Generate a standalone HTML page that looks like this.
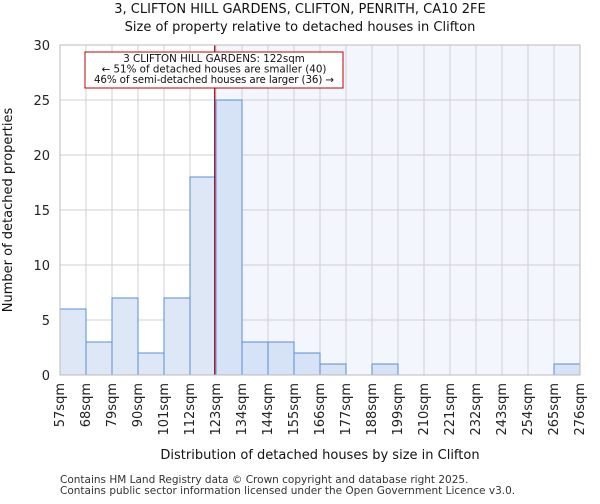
<!DOCTYPE html>
<html><head><meta charset="utf-8"><style>body{margin:0;background:#fff;font-family:"DejaVu Sans","Liberation Sans",sans-serif}</style></head><body>
<svg id="c" width="600" height="500" xmlns="http://www.w3.org/2000/svg" font-family="DejaVu Sans, Liberation Sans, sans-serif"></svg>
<script>
const categories=["57sqm","68sqm","79sqm","90sqm","101sqm","112sqm","123sqm","134sqm","144sqm","155sqm","166sqm","177sqm","188sqm","199sqm","210sqm","221sqm","232sqm","243sqm","254sqm","265sqm","276sqm"];
const counts=[6,3,7,2,7,18,25,3,3,2,1,0,1,0,0,0,0,0,0,1];
const yTicks=[0,5,10,15,20,25,30];
const propertyBin=5.95;
const svg=document.getElementById('c');const NS='http://www.w3.org/2000/svg';
const L=60,R=580,T=45,B=375,n=counts.length,bw=(R-L)/n;
const x=i=>L+i*bw, y=v=>B-(v/30)*(B-T);
function el(t,a,txt){const e=document.createElementNS(NS,t);for(const k in a)e.setAttribute(k,a[k]);if(txt!==undefined)e.textContent=txt;svg.appendChild(e);return e;}
let e;
e=el('rect',{x:x(propertyBin),y:T,width:R-x(propertyBin),height:B-T,fill:'#f3f6fd'});

for(let i=0;i<=n;i++){e=el('line',{x1:x(i),x2:x(i),y1:T,y2:B,stroke:'#d0d0d0'});}
yTicks.forEach(v=>{e=el('line',{x1:L,x2:R,y1:y(v),y2:y(v),stroke:'#d0d0d0'});
e=el('text',{x:L-10,y:y(v)+5,'text-anchor':'end','font-size':13,fill:'#222'},v);});
counts.forEach((c,i)=>{if(c>0){e=el('rect',{x:x(i),y:y(c),width:bw,height:B-y(c),fill:i>=6?'#d6e2f5':'#dde7f5',stroke:'#5b8fd4','stroke-width':1});}});
categories.forEach((c,i)=>{const tx=x(i)+4;e=el('text',{x:tx,y:B+8,'font-size':13,fill:'#222','text-anchor':'end',transform:`rotate(-90 ${tx} ${B+8})`},c);});
e=el('line',{x1:x(propertyBin),x2:x(propertyBin),y1:T,y2:B,stroke:'#a01020','stroke-width':1.3});
e=el('rect',{x:L,y:T,width:R-L,height:B-T,fill:'none',stroke:'#bbb'});
e=el('rect',{x:85,y:52,width:258,height:36,fill:'#fff',stroke:'#c00000'});
["3 CLIFTON HILL GARDENS: 122sqm","← 51% of detached houses are smaller (40)","46% of semi-detached houses are larger (36) →"].forEach((t,i)=>{e=el('text',{x:214,y:62+i*10.5,'text-anchor':'middle','font-size':10.3,fill:'#111',textLength:i==2?240:null});if(i!=2)e.removeAttribute('textLength');e.textContent=t;});
e=el('text',{x:300,y:13,'text-anchor':'middle','font-size':13,fill:'#111'},"3, CLIFTON HILL GARDENS, CLIFTON, PENRITH, CA10 2FE");
e=el('text',{x:300,y:31,'text-anchor':'middle','font-size':13,fill:'#111'},"Size of property relative to detached houses in Clifton");
e=el('text',{x:320,y:459,'text-anchor':'middle','font-size':13,fill:'#111'},"Distribution of detached houses by size in Clifton");
e=el('text',{x:12,y:210,'text-anchor':'middle','font-size':13,fill:'#111',transform:'rotate(-90 12 210)'},"Number of detached properties");
e=el('text',{x:60,y:483,'font-size':10.5,fill:'#333'},"Contains HM Land Registry data © Crown copyright and database right 2025.");
e=el('text',{x:60,y:494,'font-size':10.5,fill:'#333'},"Contains public sector information licensed under the Open Government Licence v3.0.");
</script></body></html>
